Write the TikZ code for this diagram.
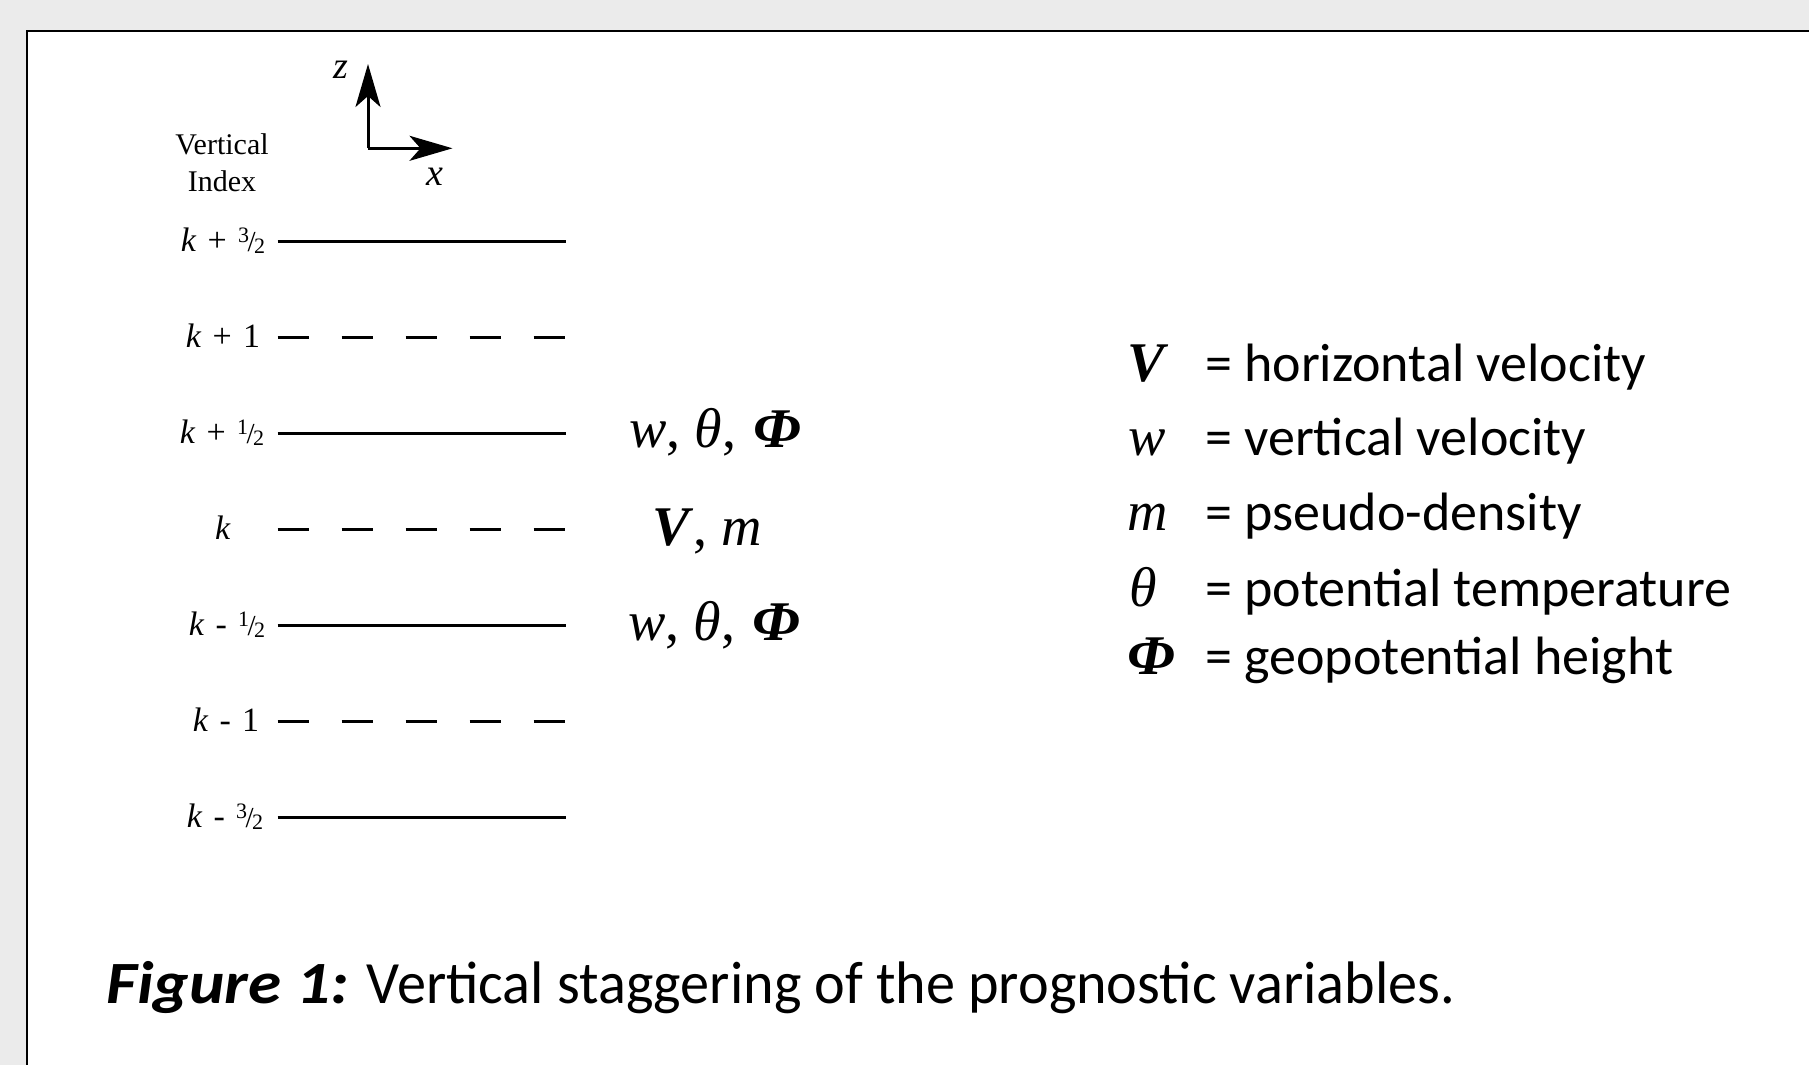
\documentclass[tikz,border=0pt]{standalone}
\usepackage{fontspec}
\setmainfont{Liberation Serif}
\newfontfamily\gill{Carlito}
\usetikzlibrary{arrows.meta}
\definecolor{bggray}{RGB}{235,235,235}
\newcommand\vfr[2]{\raisebox{9pt}{\fontsize{22}{22}\selectfont #1}\kern-1.5pt{\fontsize{29}{29}\selectfont /}\kern-1.5pt\raisebox{-2pt}{\fontsize{22}{22}\selectfont #2}}
\newcommand\idxsp{\hspace{0.33em}}
\newcommand\bphi{\scalebox{1.08}[1]{\textbf{\textit{Φ}}}}
\begin{document}
\begin{tikzpicture}[x=1pt,y=-1pt,
  lvl/.style={line width=2.7pt},
  halflvl/.style={line width=2.7pt, dash pattern=on 31.7pt off 32.3pt},
  axis/.style={line width=3pt, -{Stealth[length=43pt,width=25pt,inset=11pt]}},
  idx/.style={inner sep=0pt, anchor=base, font=\fontsize{34}{34}\selectfont},
  lab/.style={inner sep=0pt, anchor=base, font=\fontsize{30}{30}\selectfont},
  axl/.style={inner sep=0pt, anchor=base, font=\fontsize{38}{38}\selectfont\itshape},
  var/.style={inner sep=0pt, anchor=base west, font=\fontsize{56}{56}\selectfont},
  leg/.style={inner sep=0pt, anchor=base west, font=\gill\fontsize{54}{54}\selectfont},
]
\useasboundingbox (0,0) rectangle (1809,1065);
\fill[bggray] (0,0) rectangle (1809,1065);
\fill[white] (27,31) rectangle (1809,1065);
\draw[line width=2pt] (27,1065) -- (27,31) -- (1809,31);

% axes
\coordinate (o) at (368,148.3);
\coordinate (zt) at (368,64);
\coordinate (xt) at (452.5,148.3);
\draw[axis] (o) -- (zt);
\draw[axis] (o) -- (xt);
\node[axl] (zl) at (340.5,78) {z};
\node[axl] (xl) at (435,185) {x};

\node[lab] (vt) at (222,154) {Vertical};
\node[lab] (vi) at (222,191) {Index};

% levels
\foreach \i/\y/\s in {1/241.5/lvl,2/337.5/halflvl,3/433.5/lvl,4/529.5/halflvl,5/625.5/lvl,6/721.5/halflvl,7/817.5/lvl}{
  \coordinate (a\i) at (277.7,\y);
  \coordinate (b\i) at (565.5,\y);
  \draw[\s] (a\i) -- (b\i);
}
\node[idx] (k1) at (223,251) {\textit{k}\idxsp+\idxsp\vfr{3}{2}};
\node[idx] (k2) at (223,347) {\textit{k}\idxsp+\idxsp1};
\node[idx] (k3) at (222,443) {\textit{k}\idxsp+\idxsp\vfr{1}{2}};
\node[idx] (k4) at (223,539) {\textit{k}};
\node[idx] (k5) at (227,635) {\textit{k}\idxsp-\idxsp\vfr{1}{2}};
\node[idx] (k6) at (226,731) {\textit{k}\idxsp-\idxsp1};
\node[idx] (k7) at (225,827) {\textit{k}\idxsp-\idxsp\vfr{3}{2}};

% variables on levels
\node[var] (r1) at (629,447) {\textit{w}, \textit{θ},\hspace{0.32em}\bphi};
\node[var] (r2) at (652,545) {\textbf{\textit{V}}, \textit{m}};
\node[var] (r3) at (628,640) {\textit{w}, \textit{θ},\hspace{0.32em}\bphi};

% legend
\node[var] (s1) at (1127,381) {\textbf{\textit{V}}};
\node[var] (s2) at (1128,455) {\textit{w}};
\node[var] (s3) at (1127,530) {\textit{m}};
\node[var] (s4) at (1129,606) {\textit{θ}};
\node[var] (s5) at (1127,674) {\bphi};
\node[leg] (t1) at (1205,381) {= horizontal velocity};
\node[leg] (t2) at (1205,455) {= vertical velocity};
\node[leg] (t3) at (1205,530) {= pseudo-density};
\node[leg] (t4) at (1205,606) {= potential temperature};
\node[leg] (t5) at (1205,674) {= geopotential height};

% caption
\node[inner sep=0pt, anchor=base west, font=\gill\fontsize{60}{60}\selectfont] (cap) at (106,1003)
  {\scalebox{1.12}[1]{\textbf{\textit{Figure 1:}}}\hspace{0.3em}\scalebox{0.97}[1]{Vertical staggering of the prognostic variables.}};
\end{tikzpicture}
\end{document}
